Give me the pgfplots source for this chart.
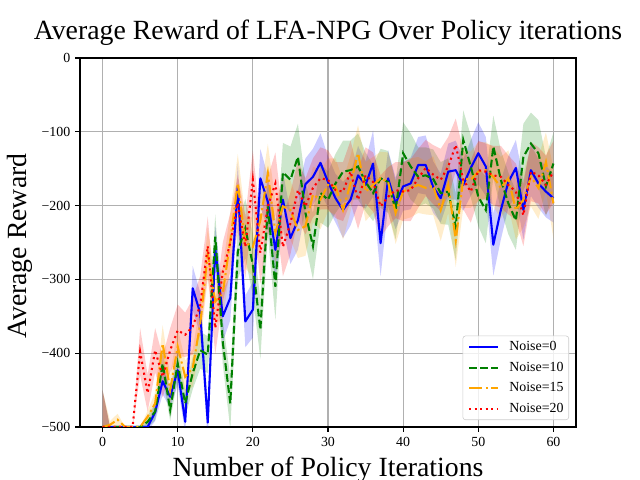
\documentclass[border=0pt]{standalone}
\usepackage{pgfplots}
\pgfplotsset{compat=1.18}
\usepackage{pgfplotstable}
\usepgfplotslibrary{fillbetween}
\usepackage{fontspec}
\setmainfont{Liberation Serif}
\definecolor{mblue}{RGB}{0,0,255}
\definecolor{mgreen}{RGB}{0,128,0}
\definecolor{morange}{RGB}{255,165,0}
\definecolor{mred}{RGB}{255,0,0}

% columns: x = policy iteration, y = mean reward, s = half width of shaded band
\pgfplotstableread{
x y s
0 -500 50
1 -500 0
2 -500 0
3 -500 0
4 -500 0
5 -500 0
6 -500 5
7 -480 12
8 -438 18
9 -459 15
10 -423 20
11 -493 15
12 -312 30
13 -346 28
14 -494 25
15 -258 30
16 -350 35
17 -325 30
18 -174 32
19 -357 35
20 -341 38
21 -163 40
22 -195 35
23 -260 40
24 -192 38
25 -244 35
26 -220 40
27 -171 35
28 -161 38
29 -142 40
30 -168 35
31 -190 33
32 -206 38
33 -192 35
34 -159 40
35 -172 32
36 -143 45
37 -251 45
38 -163 38
39 -197 35
40 -174 33
41 -170 35
42 -145 38
43 -145 40
44 -175 35
45 -190 33
46 -154 38
47 -152 40
48 -172 35
49 -149 38
50 -129 42
51 -147 40
52 -253 42
53 -206 40
54 -168 35
55 -149 38
56 -206 40
57 -152 35
58 -170 33
59 -181 35
60 -190 33
}\tblue

\pgfplotstableread{
x y s
0 -500 50
1 -500 0
2 -500 0
3 -500 0
4 -500 0
5 -500 0
6 -493 8
7 -479 12
8 -414 20
9 -477 15
10 -414 20
11 -468 18
12 -427 22
13 -396 25
14 -402 25
15 -242 30
16 -385 30
17 -468 35
18 -262 38
19 -231 40
20 -280 42
21 -368 40
22 -201 38
23 -310 45
24 -155 40
25 -165 45
26 -134 45
27 -210 42
28 -255 45
29 -183 40
30 -192 38
31 -170 40
32 -154 42
33 -152 40
34 -147 45
35 -168 40
36 -183 38
37 -163 40
38 -168 42
39 -206 40
40 -129 42
41 -147 45
42 -161 40
43 -159 38
44 -164 40
45 -183 42
46 -181 45
47 -229 45
48 -111 40
49 -147 42
50 -188 40
51 -206 45
52 -120 42
53 -165 40
54 -197 42
55 -220 40
56 -134 45
57 -116 42
58 -129 45
59 -174 40
60 -143 42
}\tgreen

\pgfplotstableread{
x y s
0 -500 50
1 -497 5
2 -490 8
3 -500 0
4 -500 0
5 -500 0
6 -486 8
7 -468 15
8 -387 25
9 -450 20
10 -391 25
11 -432 22
12 -420 25
13 -360 30
14 -265 35
15 -330 30
16 -319 35
17 -247 38
18 -170 40
19 -250 35
20 -256 40
21 -220 38
22 -156 40
23 -237 42
24 -201 38
25 -206 40
26 -233 38
27 -228 40
28 -185 38
29 -192 40
30 -172 36
31 -174 38
32 -206 40
33 -170 38
34 -129 38
35 -181 40
36 -172 38
37 -163 36
38 -168 40
39 -210 42
40 -181 38
41 -176 40
42 -172 38
43 -176 36
44 -173 40
45 -206 42
46 -172 38
47 -247 36
48 -163 40
49 -165 38
50 -154 40
51 -152 38
52 -161 40
53 -176 42
54 -163 38
55 -206 40
56 -192 38
57 -161 40
58 -176 42
59 -141 40
60 -197 48
}\torange

\pgfplotstableread{
x y s
0 -500 50
1 -500 0
2 -500 0
3 -500 0
4 -500 0
5 -398 32
6 -454 25
7 -396 30
8 -432 28
9 -396 30
10 -369 35
11 -375 30
12 -364 38
13 -335 40
14 -255 40
15 -366 35
16 -290 40
17 -250 40
18 -197 38
19 -256 42
20 -165 40
21 -264 42
22 -201 40
23 -170 42
24 -256 40
25 -224 42
26 -179 40
27 -201 38
28 -176 40
29 -163 42
30 -165 40
31 -179 38
32 -181 40
33 -154 42
34 -192 40
35 -159 38
36 -168 40
37 -201 42
38 -188 40
39 -179 38
40 -181 40
41 -179 42
42 -163 40
43 -149 38
44 -158 40
45 -165 42
46 -147 40
47 -118 36
48 -165 40
49 -181 42
50 -152 40
51 -154 38
52 -159 40
53 -161 42
54 -172 40
55 -181 38
56 -213 42
57 -154 40
58 -159 38
59 -172 40
60 -154 42
}\tred

\begin{document}
\begin{tikzpicture}
\begin{axis}[
  at={(57.6pt,38.16pt)}, anchor=south west,
  scale only axis, width=357.12pt, height=265.68pt,
  xmin=-3, xmax=63, ymin=-500, ymax=0,
  xtick={0,10,...,60},
  ytick={-500,-400,-300,-200,-100,0},
  yticklabels={−500,−400,−300,−200,−100,0},
  /pgf/number format/assume math mode=true,
  tick label style={font=\fontsize{10}{12}\selectfont},
  xtick pos=bottom, ytick pos=left,
  tick align=outside, major tick length=3.5pt,
  every tick/.style={black, line width=0.8pt},
  axis line style={line width=0.8pt},
  grid=major,
  major grid style={color=black!31, line width=0.8pt},
  title={Average Reward of LFA-NPG Over Policy iterations},
  title style={at={(axis description cs:0.5,1)}, anchor=base, yshift=7pt, font=\fontsize{20}{24}\selectfont},
  xlabel={Number of Policy Iterations},
  xlabel style={at={(axis description cs:0.5,0)}, anchor=base, yshift=-35.3pt, font=\fontsize{20}{24}\selectfont},
  ylabel={Average Reward},
  ylabel style={at={(axis description cs:-0.107,0.49)}, anchor=base, font=\fontsize{20}{24}\selectfont},
  legend cell align=left,
  legend image code/.code={\draw[#1] (0pt,0pt) -- (21pt,0pt);},
  legend style={at={(axis description cs:1,0)}, anchor=south east, xshift=-5pt, yshift=5pt,
    draw=black!20, rounded corners=2pt, fill=white, fill opacity=0.8, text opacity=1,
    font=\fontsize{10}{12}\selectfont, inner xsep=3.8pt, inner ysep=3.5pt,
    column sep=7.2pt, row sep=5.8pt,
    nodes={inner sep=0pt, text height=7pt, text depth=2pt}},
]
% shaded bands
\addplot[name path=bu, draw=none, forget plot] table[x=x, y expr=\thisrow{y}+\thisrow{s}] {\tblue};
\addplot[name path=bl, draw=none, forget plot] table[x=x, y expr=\thisrow{y}-\thisrow{s}] {\tblue};
\addplot[mblue, fill opacity=0.2, draw=none, forget plot] fill between[of=bu and bl];
\addplot[name path=gu, draw=none, forget plot] table[x=x, y expr=\thisrow{y}+\thisrow{s}] {\tgreen};
\addplot[name path=gl, draw=none, forget plot] table[x=x, y expr=\thisrow{y}-\thisrow{s}] {\tgreen};
\addplot[mgreen, fill opacity=0.2, draw=none, forget plot] fill between[of=gu and gl];
\addplot[name path=ou, draw=none, forget plot] table[x=x, y expr=\thisrow{y}+\thisrow{s}] {\torange};
\addplot[name path=ol, draw=none, forget plot] table[x=x, y expr=\thisrow{y}-\thisrow{s}] {\torange};
\addplot[morange, fill opacity=0.2, draw=none, forget plot] fill between[of=ou and ol];
\addplot[name path=ru, draw=none, forget plot] table[x=x, y expr=\thisrow{y}+\thisrow{s}] {\tred};
\addplot[name path=rl, draw=none, forget plot] table[x=x, y expr=\thisrow{y}-\thisrow{s}] {\tred};
\addplot[mred, fill opacity=0.2, draw=none, forget plot] fill between[of=ru and rl];
% mean lines
\addplot[mblue, line width=1.5pt, line join=round, mark=none] table[x=x, y=y] {\tblue};
\addlegendentry{Noise=0}
\addplot[mgreen, line width=1.5pt, dash pattern=on 5.55pt off 2.4pt, mark=none] table[x=x, y=y] {\tgreen};
\addlegendentry{Noise=10}
\addplot[morange, line width=1.5pt, dash pattern=on 9.6pt off 2.4pt on 1.5pt off 2.4pt, mark=none] table[x=x, y=y] {\torange};
\addlegendentry{Noise=15}
\addplot[mred, line width=1.5pt, dash pattern=on 1.5pt off 2.475pt, mark=none] table[x=x, y=y] {\tred};
\addlegendentry{Noise=20}
\end{axis}
\pgfresetboundingbox
\useasboundingbox (0,0) rectangle (460.8pt,345.6pt);
\end{tikzpicture}
\end{document}
